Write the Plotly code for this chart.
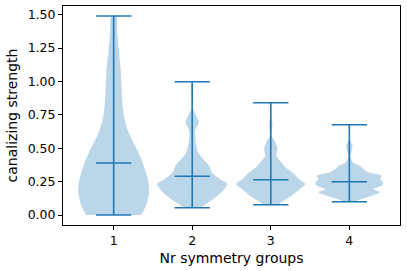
import plotly.graph_objects as go

# group positions and summary stats
groups = [1, 2, 3, 4]
mins = [0.0, 0.055, 0.077, 0.10]
maxs = [1.49, 0.998, 0.84, 0.676]
means = [0.389, 0.29, 0.264, 0.249]

# density profiles (relative half-width, 1 = widest point) at given levels
g1_y = [0.00, 0.05, 0.10, 0.17, 0.25, 0.37, 0.49, 0.62, 0.74, 0.87, 0.99, 1.12, 1.24, 1.37, 1.49]
g1_d = [0.78, 0.88, 0.95, 1.00, 0.98, 0.85, 0.66, 0.42, 0.29, 0.24, 0.22, 0.19, 0.14, 0.10, 0.07]

g2_y = [0.055, 0.07, 0.12, 0.17, 0.232, 0.27, 0.32, 0.369, 0.419, 0.469, 0.544, 0.631, 0.694, 0.743, 0.793, 0.85, 0.998]
g2_d = [0.22, 0.31, 0.60, 0.83, 0.99, 0.78, 0.55, 0.48, 0.31, 0.17, 0.10, 0.085, 0.19, 0.12, 0.03, 0.02, 0.02]

g3_y = [0.077, 0.095, 0.145, 0.195, 0.232, 0.27, 0.307, 0.357, 0.394, 0.444, 0.494, 0.544, 0.594, 0.681, 0.74, 0.84]
g3_d = [0.20, 0.30, 0.59, 0.82, 0.98, 0.79, 0.66, 0.42, 0.30, 0.16, 0.19, 0.13, 0.03, 0.05, 0.01, 0.01]

g4_y = [0.10, 0.107, 0.14, 0.17, 0.195, 0.22, 0.245, 0.27, 0.294, 0.32, 0.344, 0.369, 0.394, 0.44, 0.519, 0.569, 0.676]
g4_d = [0.15, 0.21, 0.59, 0.87, 0.68, 0.92, 0.96, 0.87, 0.92, 0.54, 0.40, 0.30, 0.10, 0.03, 0.09, 0.01, 0.01]

profiles = [(g1_y, g1_d), (g2_y, g2_d), (g3_y, g3_d), (g4_y, g4_d)]

blue = "#1f77b4"
half_width = 0.45  # violin width 0.9
cap = 0.225

fig = go.Figure()

for pos, (ys, ds) in zip(groups, profiles):
    xs = [pos + d * half_width for d in ds] + [pos - d * half_width for d in ds[::-1]]
    yy = ys + ys[::-1]
    fig.add_trace(go.Scatter(
        x=xs, y=yy, fill="toself", mode="lines",
        fillcolor="rgba(31,119,180,0.3)",
        line=dict(width=0, shape="spline", smoothing=0.7),
        hoverinfo="skip", showlegend=False,
    ))

for pos, lo, hi, mu in zip(groups, mins, maxs, means):
    # vertical extent bar
    fig.add_trace(go.Scatter(x=[pos, pos], y=[lo, hi], mode="lines",
                             line=dict(color=blue, width=1.6), showlegend=False))
    for v in (lo, hi, mu):
        fig.add_trace(go.Scatter(x=[pos - cap, pos + cap], y=[v, v], mode="lines",
                                 line=dict(color=blue, width=1.6), showlegend=False))

axis_style = dict(
    showgrid=False, zeroline=False, showline=True, mirror=True,
    linecolor="black", linewidth=1, ticks="outside", ticklen=4,
    tickcolor="black", tickfont=dict(size=12.5, color="black"),
)

fig.update_layout(
    width=407, height=271,
    margin=dict(l=63, r=7, t=6, b=46),
    plot_bgcolor="white", paper_bgcolor="white",
    font=dict(family="DejaVu Sans", size=12, color="black"),
    xaxis=dict(range=[0.355, 4.645], tickvals=groups,
               title=dict(text="Nr symmetry groups", standoff=6), **axis_style),
    yaxis=dict(range=[-0.0745, 1.5645], tickvals=[0, 0.25, 0.5, 0.75, 1.0, 1.25, 1.5],
               tickformat=".2f", title=dict(text="canalizing strength", standoff=6), **axis_style),
)

# drop the browser's default body margin so the figure sits at the page corner
fig.write_html("out.html", config={"displayModeBar": False},
               post_script="document.body.style.margin='0';")
